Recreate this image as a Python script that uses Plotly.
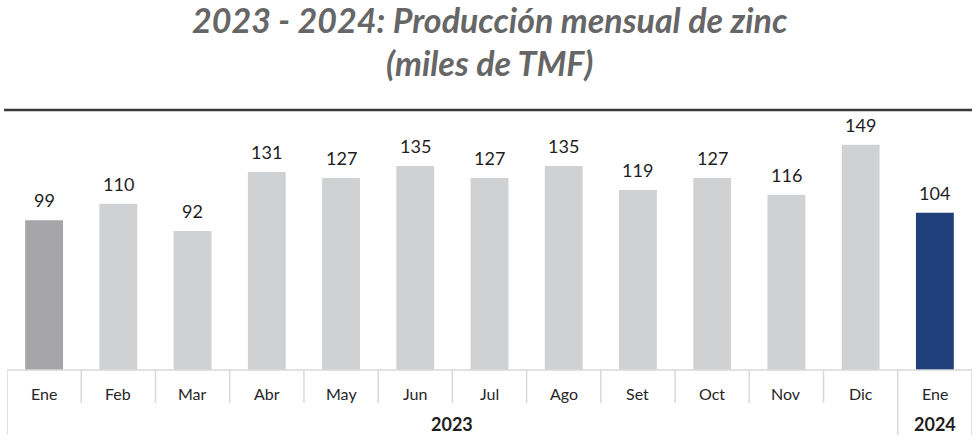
import plotly.graph_objects as go

months = ["Ene", "Feb", "Mar", "Abr", "May", "Jun", "Jul", "Ago", "Set", "Oct", "Nov", "Dic", "Ene"]
values = [99, 110, 92, 131, 127, 135, 127, 135, 119, 127, 116, 149, 104]
colors = ["#A6A6A8"] + ["#D0D1D3"] * 11 + ["#1F3F7B"]
years = ["2023", "2024"]
year_pos = [5.5, 12]

title1 = "2023 - 2024: Producción mensual de zinc"
title2 = "(miles de TMF)"

FONT = "Lato, 'Open Sans', sans-serif"
x = list(range(len(months)))

fig = go.Figure()
fig.add_trace(go.Bar(
    x=x, y=values, marker=dict(color=colors, line=dict(width=0)),
    width=0.51, hoverinfo="skip", showlegend=False,
))

annotations = []
for xi, v in zip(x, values):
    annotations.append(dict(
        x=xi, y=v, xref="x", yref="y", text=str(v), showarrow=False,
        yanchor="bottom", yshift=7, font=dict(family=FONT, size=18, color="#1E1E1E"),
    ))
for xi, m in zip(x, months):
    annotations.append(dict(
        x=xi, y=-23 / 260, xref="x", yref="paper", text=m, showarrow=False,
        yanchor="middle", font=dict(family=FONT, size=16, color="#262626"),
    ))
for yp, yl in zip(year_pos, years):
    annotations.append(dict(
        x=yp, y=-54 / 260, xref="x", yref="paper", text="<b>" + yl + "</b>", showarrow=False,
        yanchor="middle", font=dict(family=FONT, size=18, color="#1E1E1E"),
    ))
annotations.append(dict(
    x=0.5, y=1 + (110 - 20) / 260, xref="paper", yref="paper", text="<b><i>" + title1 + "</i></b>",
    showarrow=False, yanchor="middle", font=dict(family=FONT, size=34, color="#666666"),
))
annotations.append(dict(
    x=0.5, y=1 + (110 - 63) / 260, xref="paper", yref="paper", text="<b><i>" + title2 + "</i></b>",
    showarrow=False, yanchor="middle", font=dict(family=FONT, size=34, color="#666666"),
))

shapes = []
# baseline
shapes.append(dict(type="line", xref="paper", yref="paper", x0=0, x1=1, y0=0, y1=0,
                   line=dict(color="#D9D9D9", width=1.5)))
# separators
for k in range(len(months) + 1):
    long = k in (0, 12, 13)
    y1 = -65 / 260 if long else -33 / 260
    shapes.append(dict(type="line", xref="x", yref="paper", x0=k - 0.5, x1=k - 0.5,
                       y0=0, y1=y1, line=dict(color="#D9D9D9", width=1.5)))
# top dark rule
shapes.append(dict(type="line", xref="paper", yref="paper", x0=-3 / 965, x1=1, y0=1, y1=1,
                   line=dict(color="#3A3A3A", width=2.5)))

fig.update_layout(
    width=978, height=441,
    margin=dict(l=7, r=6, t=110, b=71),
    paper_bgcolor="white", plot_bgcolor="white",
    xaxis=dict(range=[-0.5, 12.5], showticklabels=False, showgrid=False, zeroline=False,
               fixedrange=True),
    yaxis=dict(range=[0, 172], showticklabels=False, showgrid=False, zeroline=False,
               fixedrange=True),
    annotations=annotations, shapes=shapes, bargap=0.4,
)

fig.write_html("out.html", config={"displayModeBar": False},
               post_script="document.body.style.margin='0';document.body.style.overflow='hidden';")
